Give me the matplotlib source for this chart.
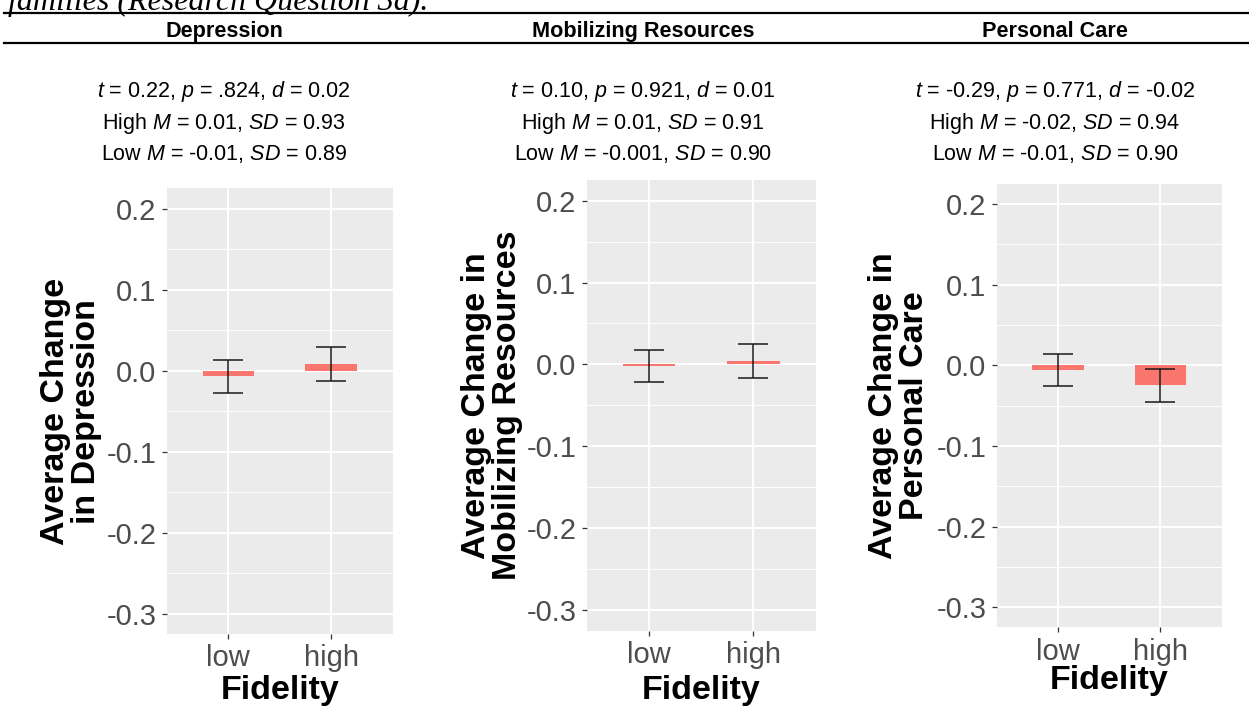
import numpy as np
import matplotlib.pyplot as plt
from matplotlib.ticker import FixedLocator

plt.rcParams['font.family'] = 'Liberation Sans'
plt.rcParams['mathtext.fontset'] = 'custom'
plt.rcParams['mathtext.rm'] = 'Liberation Sans'
plt.rcParams['mathtext.it'] = 'Liberation Sans:italic'

# ── data ──
GROUPS = ["low", "high"]
OUTCOMES = ["Depression", "Mobilizing Resources", "Personal Care"]
YLABELS = ["Average Change\nin Depression",
           "Average Change in\nMobilizing Resources",
           "Average Change in\nPersonal Care"]
MEAN_LOW = [-0.007, -0.002, -0.006]
MEAN_HIGH = [0.008, 0.0045, -0.025]
SE_LOW = [0.020, 0.020, 0.020]
SE_HIGH = [0.021, 0.0205, 0.020]
STAT_LINES = [
    ["$t$ = 0.22, $p$ = .824, $d$ = 0.02",
     "High $M$ = 0.01, $SD$ = 0.93",
     "Low $M$ = -0.01, $SD$ = 0.89"],
    ["$t$ = 0.10, $p$ = 0.921, $d$ = 0.01",
     "High $M$ = 0.01, $SD$ = 0.91",
     "Low $M$ = -0.001, $SD$ = 0.90"],
    ["$t$ = -0.29, $p$ = 0.771, $d$ = -0.02",
     "High $M$ = -0.02, $SD$ = 0.94",
     "Low $M$ = -0.01, $SD$ = 0.90"],
]
YTICKS = [-0.3, -0.2, -0.1, 0.0, 0.1, 0.2]
YMINOR = [-0.25, -0.15, -0.05, 0.05, 0.15]

# ── layout (pixels) ──
W, H = 1249, 726
# left, top, right, bottom of each panel
BOXES = [(166.7, 188.3, 392.7, 634.0),
         (586.7, 180.1, 816.0, 630.7),
         (996.7, 183.8, 1221.7, 627.3)]
COL_X = [224, 643, 1055]
YLAB_X = [71, 492, 899]
XLAB_Y = [691, 691, 680]

BAR_C = "#F8766D"
PANEL_BG = "#EBEBEB"

fig = plt.figure(figsize=(W / 100, H / 100), dpi=100)
fig.patch.set_facecolor("white")

def fx(px):
    return px / W

def fy(py):
    return 1 - py / H

# ── table header (caption line is cropped at the top, as in the source) ──
fig.text(fx(8), fy(10), "families (Research Question 3a).", fontsize=23,
         family="Liberation Serif", style="italic", ha="left", va="baseline")
fig.add_artist(plt.Line2D([fx(4), 1], [fy(12.5), fy(12.5)], color="black", lw=1.6))
fig.add_artist(plt.Line2D([fx(4), 1], [fy(43.3), fy(43.3)], color="black", lw=1.6))
for cx, name in zip(COL_X, OUTCOMES):
    fig.text(fx(cx), fy(37), name, fontsize=15.6, fontweight="bold",
             ha="center", va="baseline")

for i in range(3):
    l, t, r, b = BOXES[i]
    ax = fig.add_axes([fx(l), fy(b), (r - l) / W, (b - t) / H])
    ax.set_facecolor(PANEL_BG)
    for s in ax.spines.values():
        s.set_visible(False)

    xpos = np.arange(1, len(GROUPS) + 1)
    means = [MEAN_LOW[i], MEAN_HIGH[i]]
    errs = [SE_LOW[i], SE_HIGH[i]]
    ax.bar(xpos, means, width=0.5, color=BAR_C, zorder=3)
    ax.errorbar(xpos, means, yerr=errs, fmt="none", ecolor="#1a1a1a",
                elinewidth=1.1, capsize=10.5, capthick=1.1, zorder=4)

    ax.set_xlim(0.4, 2.6)
    ax.set_ylim(-0.325, 0.225)
    ax.set_xticks(xpos)
    ax.set_xticklabels(GROUPS)
    ax.yaxis.set_major_locator(FixedLocator(YTICKS))
    ax.yaxis.set_minor_locator(FixedLocator(YMINOR))
    ax.set_yticklabels([f"{v:.1f}" for v in YTICKS])
    ax.grid(which="major", color="white", lw=1.4, zorder=1)
    ax.grid(which="minor", axis="y", color="white", lw=0.7, zorder=1)
    ax.set_axisbelow(True)
    ax.tick_params(which="major", length=3.5, width=0.9, color="#333333",
                   labelcolor="#4D4D4D", labelsize=21)
    ax.tick_params(axis="x", pad=4)
    ax.tick_params(axis="y", pad=4)
    ax.tick_params(which="minor", length=0)

    ax.set_xlabel("Fidelity", fontsize=24.5, fontweight="bold", va="center")
    ax.xaxis.set_label_coords(0.5, -(XLAB_Y[i] - b) / (b - t))

    fig.text(fx(YLAB_X[i]), fy((t + b) / 2), YLABELS[i], rotation=90,
             fontsize=24.5, fontweight="bold", ha="center", va="center",
             multialignment="center", linespacing=1.0)

    for k, line in enumerate(STAT_LINES[i]):
        fig.text(fx(COL_X[i]), fy([92, 123, 154][k]), line, fontsize=15.5,
                 ha="center", va="center")

fig.savefig("out.png", dpi=100)
